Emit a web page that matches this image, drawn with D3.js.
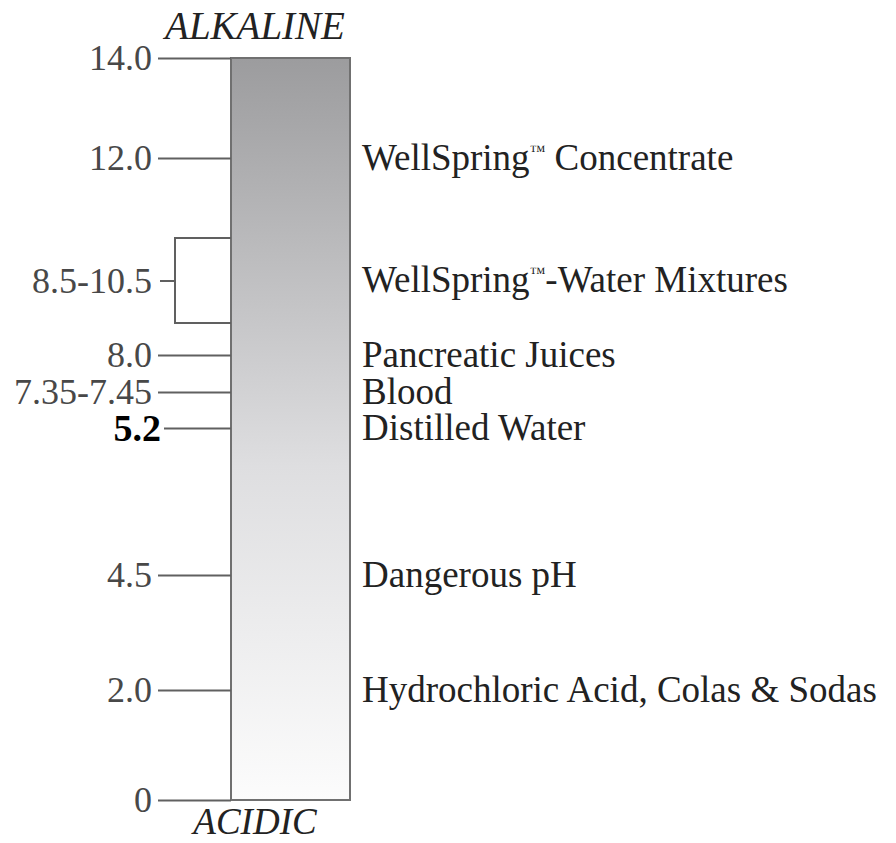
<!DOCTYPE html>
<meta charset="utf-8">
<html>
<head>
<script src="https://cdn.jsdelivr.net/npm/d3@7"></script>
<style>
body { margin: 0; background: #fff; }
text { font-family: 'Liberation Serif', 'DejaVu Serif', serif; }
.tick text { font-size: 36px; fill: #484848; }
.label { font-size: 37px; fill: #222; }
.end { font-style: italic; fill: #222; }
</style>
</head>
<body>
<div id="my_dataviz"></div>
<script>

// pH marks, top to bottom
var phValues = [14, 12, 9.5, 8, 7.4, 5.2, 4.5, 2, 0];
var tickLabels = ["14.0", "12.0", "8.5-10.5", "8.0", "7.35-7.45", "5.2", "4.5", "2.0", "0"];
var substances = ["", "WellSpring\u2122 Concentrate", "WellSpring\u2122-Water Mixtures", "Pancreatic Juices",
                  "Blood", "Distilled Water", "Dangerous pH", "Hydrochloric Acid, Colas & Sodas", ""];
var mixRange = [8.5, 10.5];

var width = 896, height = 843;

var svg = d3.select("#my_dataviz")
  .append("svg")
  .attr("width", width)
  .attr("height", height);

// the scale is schematic, not linear in pH
var y = d3.scaleLinear()
  .domain([0, 2, 4.5, 5.2, 7.4, 8, 8.5, 10.5, 12, 14])
  .range([800, 690, 575, 428, 392, 355, 323, 238, 158, 58]);

var barLeft = 231, barRight = 350;

var grad = svg.append("defs").append("linearGradient")
  .attr("id", "phgrad")
  .attr("x1", 0).attr("y1", 0).attr("x2", 0).attr("y2", 1);
grad.append("stop").attr("offset", "0%").attr("stop-color", "#9c9c9e");
grad.append("stop").attr("offset", "55%").attr("stop-color", "#dedee0");
grad.append("stop").attr("offset", "100%").attr("stop-color", "#fcfcfc");

svg.append("rect")
  .attr("x", barLeft)
  .attr("y", y(14))
  .attr("width", barRight - barLeft)
  .attr("height", y(0) - y(14))
  .attr("fill", "url(#phgrad)")
  .attr("stroke", "#707070")
  .attr("stroke-width", 2);

// left axis
var axis = svg.append("g")
  .attr("transform", "translate(" + barLeft + ",0)")
  .call(d3.axisLeft(y)
    .tickValues(phValues)
    .tickSize(73)
    .tickPadding(6)
    .tickFormat(function(d, i) { return tickLabels[i]; }));

axis.select(".domain").remove();
axis.attr("font-family", null).attr("font-size", null);
axis.selectAll(".tick line").attr("stroke", "#606060").attr("stroke-width", 2);

axis.selectAll(".tick")
  .filter(function(d) { return d === 9.5; })
  .select("line")
  .attr("x1", -56).attr("x2", -71);

axis.selectAll(".tick")
  .filter(function(d) { return d === 5.2; })
  .select("line").attr("x2", -67);
axis.selectAll(".tick")
  .filter(function(d) { return d === 5.2; })
  .select("text")
  .attr("x", -70)
  .style("font-weight", "bold")
  .style("font-size", "38px")
  .style("fill", "#000");

// bracket for the mixture range
svg.append("path")
  .attr("d", "M" + barLeft + "," + y(mixRange[1]) +
             "H" + (barLeft - 56) +
             "V" + y(mixRange[0]) +
             "H" + barLeft)
  .attr("fill", "none")
  .attr("stroke", "#606060")
  .attr("stroke-width", 2);

// substances on the right, trademark sign set small and raised
var labels = svg.selectAll(".label")
  .data(phValues)
  .enter()
  .append("text")
  .attr("class", "label")
  .attr("x", barRight + 12)
  .attr("y", function(d) { return y(d); })
  .attr("dy", "0.32em");

labels.each(function(d, i) {
  var parts = substances[i].split("\u2122");
  var t = d3.select(this);
  parts.forEach(function(p, j) {
    if (j > 0) {
      t.append("tspan").attr("font-size", "16px").attr("dy", "-14").text("\u2122");
      t.append("tspan").attr("dy", "14").text(p);
    } else {
      t.append("tspan").text(p);
    }
  });
});

svg.append("text")
  .attr("class", "end")
  .attr("x", 255)
  .attr("y", 39)
  .attr("font-size", "39px")
  .attr("text-anchor", "middle")
  .text("ALKALINE");

svg.append("text")
  .attr("class", "end")
  .attr("x", 255)
  .attr("y", 834)
  .attr("font-size", "37px")
  .attr("text-anchor", "middle")
  .text("ACIDIC");

</script>
</body>
</html>
